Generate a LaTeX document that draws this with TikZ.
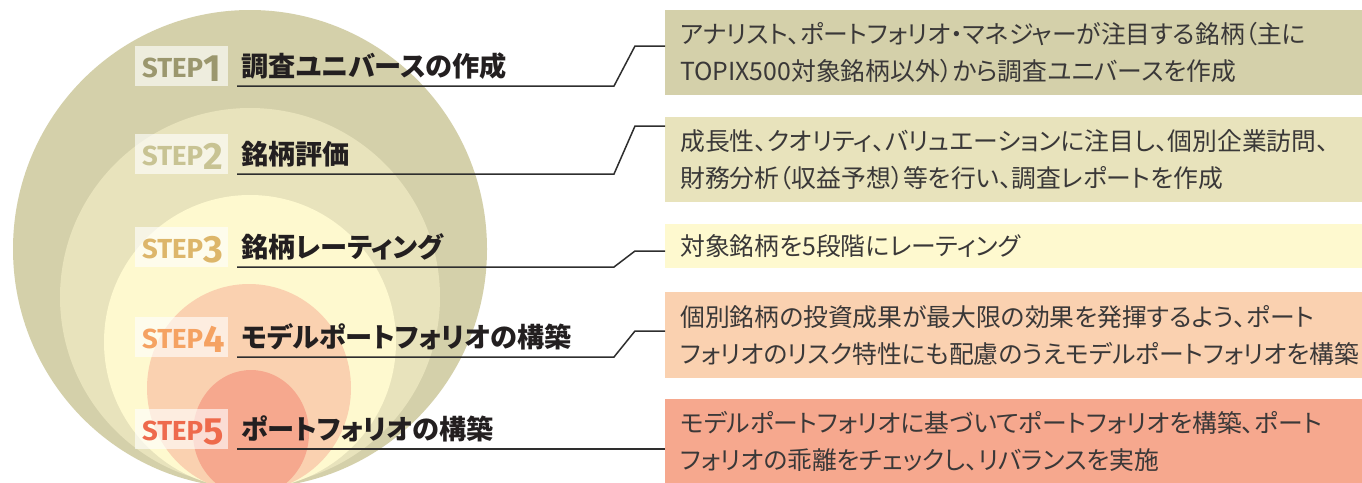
\documentclass[tikz,border=0pt]{standalone}
\usepackage{fontspec}
\newfontfamily\jp{Noto Sans CJK JP}[RawFeature=+palt]
\newfontfamily\stepfont{Fira Sans}
\definecolor{ellA}{HTML}{D4D0AA}
\definecolor{ellB}{HTML}{E8E3BC}
\definecolor{ellC}{HTML}{FEF9CF}
\definecolor{ellD}{HTML}{FAD1B0}
\definecolor{ellE}{HTML}{F6A88E}
\definecolor{stA}{HTML}{9B976E}
\definecolor{stB}{HTML}{C8C393}
\definecolor{stC}{HTML}{DDB66A}
\definecolor{stD}{HTML}{F5A262}
\definecolor{stE}{HTML}{EE6A4C}
\definecolor{ink}{HTML}{231F20}
\definecolor{boxink}{HTML}{3A3838}
\definecolor{lineC}{HTML}{2E2E2E}
\newcommand{\steptext}[1]{\fontsize{27.5}{28}\selectfont\raisebox{4pt}{STEP}\fontsize{38}{38}\selectfont #1}
\begin{document}
\begin{tikzpicture}[x=1pt,y=-1pt,
  labelbg/.style={fill=white,fill opacity=0.62,draw=none,minimum width=93pt,minimum height=40pt,inner sep=0pt,anchor=south west},
  steplbl/.style={anchor=base west,inner sep=0pt,font=\stepfont\bfseries},
  title/.style={anchor=base west,inner sep=0pt,text=ink,font=\jp\bfseries\fontsize{27.2}{30}\selectfont},
  infobox/.style={anchor=north west,minimum width=697pt,inner xsep=15pt,inner ysep=0pt,text width=667pt,align=left,text=boxink,font=\jp\fontsize{24.8}{37}\selectfont},
  conn/.style={draw=lineC,line width=1.5pt}
]
\useasboundingbox (0,0) rectangle (1362,482);
\clip (0,0) rectangle (1362,482);
\fill[white] (0,0) rectangle (1362,482);
% nested ellipses
\fill[ellA] (250,249) ellipse [x radius=237pt, y radius=239pt];
\fill[ellB] (250,297) ellipse [x radius=190pt, y radius=189pt];
\fill[ellC] (250,342) ellipse [x radius=146pt, y radius=147pt];
\fill[ellD] (249,388) ellipse [x radius=102pt, y radius=104pt];
\fill[ellE] (251,433) ellipse [x radius=58pt, y radius=63pt];
% step label backgrounds
\node[labelbg] (l1) at (135,86) {};
\node[labelbg] (l2) at (135,174) {};
\node[labelbg] (l3) at (135,267) {};
\node[labelbg] (l4) at (135,357) {};
\node[labelbg] (l5) at (135,449) {};
% step labels
\node[steplbl,text=stA] (s1) at (142,81.5) {\steptext{1}};
\node[steplbl,text=stB] (s2) at (142,169.5) {\steptext{2}};
\node[steplbl,text=stC] (s3) at (142,262.5) {\steptext{3}};
\node[steplbl,text=stD] (s4) at (142,352.5) {\steptext{4}};
\node[steplbl,text=stE] (s5) at (142,444.5) {\steptext{5}};
% titles
\node[title] (t1) at (241,76) {調査ユニバースの作成};
\node[title] (t2) at (241,164) {銘柄評価};
\node[title] (t3) at (241,257) {銘柄レーティング};
\node[title] (t4) at (241,347) {モデルポートフォリオの構築};
\node[title] (t5) at (241,439) {ポートフォリオの構築};
% info boxes
\node[infobox,fill=ellA,minimum height=85pt] (b1) at (665,10) {アナリスト、ポートフォリオ・マネジャーが注目する銘柄（主に\\TOPIX500対象銘柄以外）から調査ユニバースを作成};
\node[infobox,fill=ellB,minimum height=85pt] (b2) at (665,117) {成長性、クオリティ、バリュエーションに注目し、個別企業訪問、\\財務分析（収益予想）等を行い、調査レポートを作成};
\node[infobox,fill=ellC,minimum height=44pt] (b3) at (665,224) {対象銘柄を5段階にレーティング};
\node[infobox,fill=ellD,minimum height=86pt] (b4) at (665,292) {個別銘柄の投資成果が最大限の効果を発揮するよう、ポート\\フォリオのリスク特性にも配慮のうえモデルポートフォリオを構築};
\node[infobox,fill=ellE,minimum height=84pt] (b5) at (665,399) {モデルポートフォリオに基づいてポートフォリオを構築、ポート\\フォリオの乖離をチェックし、リバランスを実施};
% underline start points
\coordinate (u1) at (237,86);
\coordinate (u2) at (237,174);
\coordinate (u3) at (237,267);
\coordinate (u4) at (237,357);
\coordinate (u5) at (237,449);
% connectors
\draw[conn] (u1) -- (614,86) -- (635,46) -- (b1.west |- 0,46);
\draw[conn] (u2) -- (614,174) -- (635,126) -- (b2.west |- 0,126);
\draw[conn] (u3) -- (614,267) -- (635,251) -- (b3.west |- 0,251);
\draw[conn] (u4) -- (614,357) -- (635,331) -- (b4.west |- 0,331);
\draw[conn] (u5) -- (b5.west |- 0,449);
\end{tikzpicture}
\end{document}
